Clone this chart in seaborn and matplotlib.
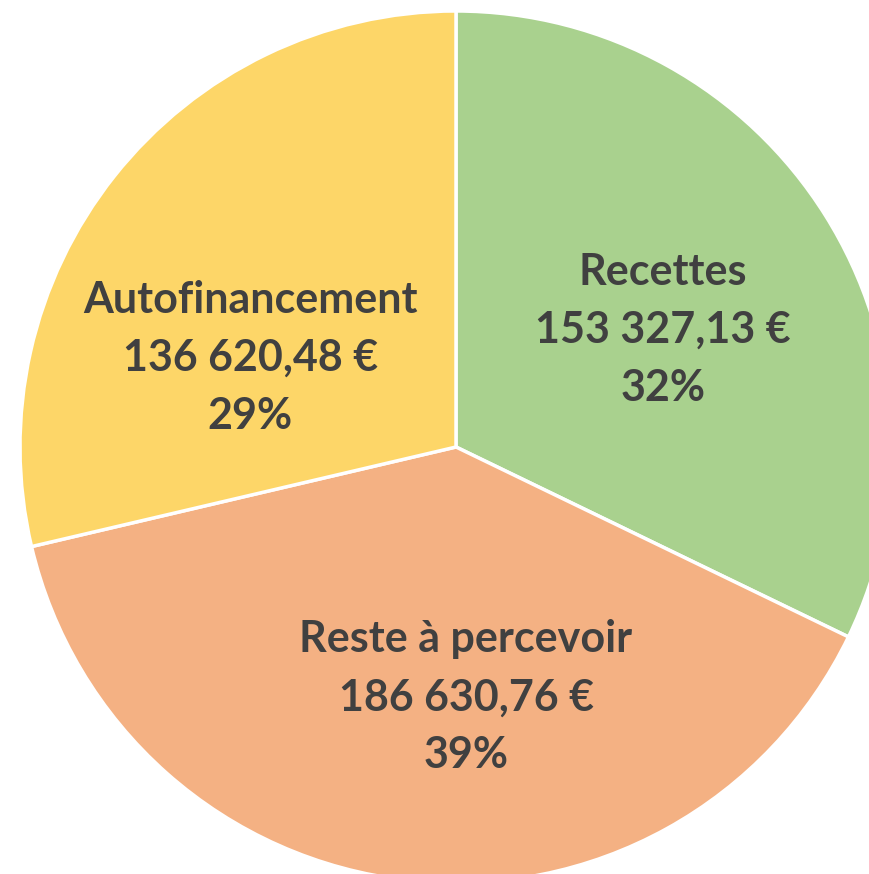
import numpy as np
import seaborn as sns
import matplotlib.pyplot as plt

sns.set_theme(style='white')
plt.rcParams['font.family'] = ['Lato', 'DejaVu Sans']

categories = ['Recettes', 'Reste à percevoir', 'Autofinancement']
montants = [153327.13, 186630.76, 136620.48]
montant_labels = ['153 327,13 €', '186 630,76 €', '136 620,48 €']
pourcentages = ['32%', '39%', '29%']

colors = ['#A9D18E', '#F4B183', '#FDD668']
# label centres in axes units (pie radius = 1)
label_pos = [(0.475, 0.268), (0.023, -0.574), (-0.472, 0.204)]

fig = plt.figure(figsize=(8.69, 8.74), dpi=100)
ax = fig.add_axes([0, 0, 1, 1])

wedges, _ = ax.pie(montants, colors=colors, startangle=90, counterclock=False,
                   wedgeprops=dict(edgecolor='white', linewidth=2.5))

for cat, m, p, pos in zip(categories, montant_labels, pourcentages, label_pos):
    ax.text(pos[0], pos[1], f'{cat}\n{m}\n{p}', ha='center', va='center',
            fontsize=31, fontweight='bold', color='#404040', linespacing=1.55)

# reference is cropped: centre at (456, 447) px, radius 436 px
r = 436
ax.set_xlim(-456 / r, (869 - 456) / r)
ax.set_ylim(-(874 - 447) / r, 447 / r)
ax.set_aspect('auto')
ax.axis('off')

fig.savefig('out.png', dpi=100, facecolor='white')
